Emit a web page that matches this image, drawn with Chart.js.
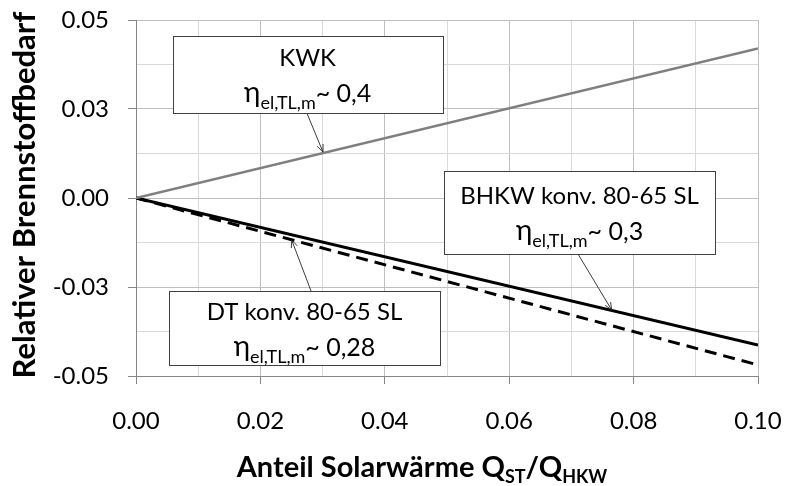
<!DOCTYPE html>
<html>
<head>
<meta charset="utf-8">
<script src="https://cdn.jsdelivr.net/npm/chart.js@4.4.1/dist/chart.umd.min.js"></script>
<style>
html,body{margin:0;padding:0;background:#fff;}
#wrap{width:792px;height:486px;position:relative;}
</style>
</head>
<body>
<div id="wrap"><canvas id="c" width="792" height="486"></canvas></div>
<script>
// ---- data ----
const xValues = [0, 0.1];
const kwkValues = [0, 0.042];
const bhkwValues = [0, -0.0413];
const dtValues = [0, -0.0469];

const xGridValues = [0, 0.01, 0.02, 0.03, 0.04, 0.05, 0.06, 0.07, 0.08, 0.09, 0.1];
const xTickLabels = ['0.00', '', '0.02', '', '0.04', '', '0.06', '', '0.08', '', '0.10'];
const yGridValues = [-0.05, -0.0375, -0.025, -0.0125, 0, 0.0125, 0.025, 0.0375, 0.05];
const yTickLabels = ['-0.05', '', '-0.03', '', '0.00', '', '0.03', '', '0.05'];

const xTitle = ['Anteil Solarwärme Q', 'ST', '/Q', 'HKW'];
const yTitle = 'Relativer Brennstoffbedarf';

const noteTexts = [
  { line1: 'KWK', sub: 'el,TL,m', value: '~ 0,4' },
  { line1: 'BHKW konv. 80-65 SL', sub: 'el,TL,m', value: '~ 0,3' },
  { line1: 'DT konv. 80-65 SL', sub: 'el,TL,m', value: '~ 0,28' }
];

// ---- annotation layout (data coordinates) ----
const noteLayout = [
  { box: [0.0059, 0.0455, 0.0493, 0.0240], from: [0.02744, 0.0240], to: [0.03006, 0.01292] },
  { box: [0.04952, 0.00767, 0.09309, -0.01573], from: [0.07106, -0.01573], to: [0.07648, -0.03146] },
  { box: [0.00531, -0.02612, 0.04887, -0.04691], from: [0.02814, -0.02612], to: [0.02503, -0.0118] }
];

const FONT = 'Lato, "Open Sans", sans-serif';

function pts(xs, ys) { return xs.map((x, i) => ({ x: x, y: ys[i] })); }

function drawRich(ctx, parts, cx, baseline) {
  let total = 0;
  parts.forEach(p => { ctx.font = p.font; p.w = ctx.measureText(p.t).width; total += p.w; });
  let x = cx - total / 2;
  ctx.textAlign = 'left';
  ctx.textBaseline = 'alphabetic';
  parts.forEach(p => { ctx.font = p.font; ctx.fillText(p.t, x, baseline + (p.dy || 0)); x += p.w; });
}

const notesPlugin = {
  id: 'notes',
  afterDatasetsDraw(chart) {
    const ctx = chart.ctx;
    const xs = chart.scales.x, ys = chart.scales.y;
    ctx.save();
    noteLayout.forEach((n, i) => {
      const x1 = xs.getPixelForValue(n.box[0]), y1 = ys.getPixelForValue(n.box[1]);
      const x2 = xs.getPixelForValue(n.box[2]), y2 = ys.getPixelForValue(n.box[3]);
      const ax = xs.getPixelForValue(n.from[0]), ay = ys.getPixelForValue(n.from[1]);
      const bx = xs.getPixelForValue(n.to[0]), by = ys.getPixelForValue(n.to[1]);
      ctx.strokeStyle = '#262626';
      ctx.lineWidth = 0.9;
      ctx.beginPath(); ctx.moveTo(ax, ay); ctx.lineTo(bx, by); ctx.stroke();
      const ang = Math.atan2(by - ay, bx - ax);
      const hl = 8, ha = 0.4;
      ctx.beginPath();
      ctx.moveTo(bx - hl * Math.cos(ang - ha), by - hl * Math.sin(ang - ha));
      ctx.lineTo(bx, by);
      ctx.lineTo(bx - hl * Math.cos(ang + ha), by - hl * Math.sin(ang + ha));
      ctx.stroke();
      ctx.fillStyle = '#ffffff';
      ctx.fillRect(Math.round(x1) + 0.5, Math.round(y1) + 0.5, Math.round(x2 - x1), Math.round(y2 - y1));
      ctx.strokeStyle = '#404040';
      ctx.lineWidth = 1;
      ctx.strokeRect(Math.round(x1) + 0.5, Math.round(y1) + 0.5, Math.round(x2 - x1), Math.round(y2 - y1));
      const t = noteTexts[i];
      const cx = (x1 + x2) / 2, mid = (y1 + y2) / 2;
      ctx.fillStyle = '#000';
      drawRich(ctx, [{ t: t.line1, font: '24px ' + FONT }], cx, mid - 8);
      drawRich(ctx, [
        { t: 'η', font: '28px ' + FONT },
        { t: t.sub, font: '18px ' + FONT, dy: 7 },
        { t: t.value, font: '25px ' + FONT }
      ], cx, mid + 28);
    });
    ctx.restore();
  },
  afterDraw(chart) {
    const ctx = chart.ctx;
    ctx.save();
    ctx.fillStyle = '#000';
    drawRich(ctx, [
      { t: xTitle[0], font: 'bold 29px ' + FONT },
      { t: xTitle[1], font: 'bold 18px ' + FONT, dy: 6 },
      { t: xTitle[2], font: 'bold 29px ' + FONT },
      { t: xTitle[3], font: 'bold 18px ' + FONT, dy: 6 }
    ], 422, 477);
    ctx.translate(35, 195);
    ctx.rotate(-Math.PI / 2);
    ctx.font = 'bold 31px ' + FONT;
    ctx.textAlign = 'center';
    ctx.textBaseline = 'alphabetic';
    ctx.fillText(yTitle, 0, 0);
    ctx.restore();
  }
};

const isMajorX = (i) => xTickLabels[i] !== '';
const isMajorY = (i) => yTickLabels[i] !== '';

new Chart(document.getElementById('c'), {
  type: 'line',
  data: {
    datasets: [
      { label: 'KWK', data: pts(xValues, kwkValues), borderColor: '#7f7f7f', borderWidth: 2.5, pointRadius: 0, tension: 0 },
      { label: 'BHKW', data: pts(xValues, bhkwValues), borderColor: '#000000', borderWidth: 3, pointRadius: 0, tension: 0 },
      { label: 'DT', data: pts(xValues, dtValues), borderColor: '#000000', borderWidth: 3, borderDash: [12, 7], pointRadius: 0, tension: 0 }
    ]
  },
  options: {
    responsive: false,
    animation: false,
    devicePixelRatio: 1,
    layout: { padding: { top: 20, right: 34, left: 0, bottom: 0 } },
    plugins: { legend: { display: false }, tooltip: { enabled: false } },
    scales: {
      x: {
        type: 'linear', min: 0, max: 0.1,
        afterBuildTicks: (s) => { s.ticks = xGridValues.map(v => ({ value: v })); },
        afterFit: (s) => { s.height = 110; s.paddingLeft = 0; s.paddingRight = 0; },
        grid: {
          color: (c) => isMajorX(c.index) ? '#bfbfbf' : '#d9d9d9',
          lineWidth: 1,
          drawTicks: true,
          tickLength: 8,
          tickColor: (c) => isMajorX(c.index) ? '#868686' : 'rgba(0,0,0,0)'
        },
        border: { color: '#868686', width: 1 },
        ticks: {
          autoSkip: false, maxRotation: 0, minRotation: 0,
          padding: 23, color: '#000',
          font: { family: FONT, size: 24 },
          callback: (v, i) => xTickLabels[i]
        }
      },
      y: {
        type: 'linear', min: -0.05, max: 0.05,
        afterBuildTicks: (s) => { s.ticks = yGridValues.map(v => ({ value: v })); },
        afterFit: (s) => { s.width = 136; s.paddingTop = 0; s.paddingBottom = 0; },
        grid: {
          color: (c) => isMajorY(c.index) ? '#bfbfbf' : '#d9d9d9',
          lineWidth: 1,
          drawTicks: true,
          tickLength: 8,
          tickColor: (c) => isMajorY(c.index) ? '#868686' : 'rgba(0,0,0,0)'
        },
        border: { color: '#868686', width: 1 },
        ticks: {
          autoSkip: false, padding: 19, color: '#000',
          font: { family: FONT, size: 24 },
          callback: (v, i) => yTickLabels[i]
        }
      }
    }
  },
  plugins: [notesPlugin]
});
</script>
</body>
</html>
